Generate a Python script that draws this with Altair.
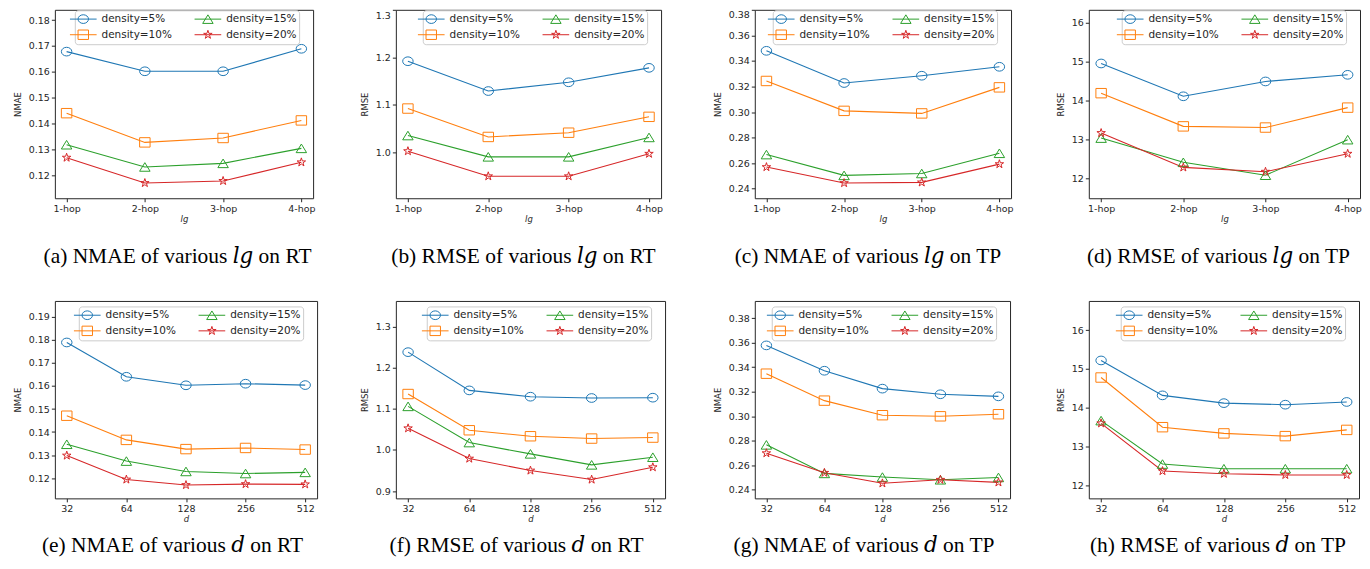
import math
import altair as alt
import pandas as pd

# ---------------- data ----------------
series = ["density=5%", "density=10%", "density=15%", "density=20%"]
series_colors = ["#1f77b4", "#ff7f0e", "#2ca02c", "#d62728"]

hop_labels = ["1-hop", "2-hop", "3-hop", "4-hop"]
dim_labels = ["32", "64", "128", "256", "512"]

# rows: density 5%, 10%, 15%, 20%
nmae_rt_lg = [[0.1678, 0.1602, 0.1602, 0.1689],
              [0.1440, 0.1327, 0.1344, 0.1412],
              [0.1318, 0.1232, 0.1246, 0.1304],
              [0.1268, 0.1170, 0.1178, 0.1250]]
rmse_rt_lg = [[1.192, 1.129, 1.1475, 1.178],
              [1.092, 1.032, 1.041, 1.0745],
              [1.035, 0.990, 0.990, 1.031],
              [1.002, 0.949, 0.949, 0.9965]]
nmae_tp_lg = [[0.3479, 0.3227, 0.3284, 0.3354],
              [0.3243, 0.3009, 0.2989, 0.3193],
              [0.2667, 0.2504, 0.2519, 0.2677],
              [0.2569, 0.2444, 0.2449, 0.2592]]
rmse_tp_lg = [[14.95, 14.11, 14.49, 14.66],
              [14.19, 13.34, 13.31, 13.82],
              [13.04, 12.42, 12.09, 13.00],
              [13.17, 12.29, 12.18, 12.64]]
nmae_rt_d = [[0.1789, 0.1640, 0.1603, 0.1610, 0.1604],
             [0.1471, 0.1366, 0.1326, 0.1331, 0.1324],
             [0.1347, 0.1274, 0.1229, 0.1220, 0.1225],
             [0.1298, 0.1194, 0.1170, 0.1174, 0.1173]]
rmse_rt_d = [[1.2378, 1.1448, 1.1295, 1.1263, 1.1271],
             [1.1360, 1.0479, 1.0333, 1.0277, 1.0301],
             [1.1060, 1.0180, 0.9905, 0.9638, 0.9824],
             [1.0527, 0.9790, 0.9500, 0.9280, 0.9580]]
nmae_tp_d = [[0.3578, 0.3371, 0.3225, 0.3179, 0.3162],
             [0.3347, 0.3127, 0.3008, 0.2999, 0.3016],
             [0.2766, 0.2533, 0.2503, 0.2481, 0.2500],
             [0.2698, 0.2538, 0.2452, 0.2481, 0.2460]]
rmse_tp_d = [[15.22, 14.32, 14.12, 14.08, 14.15],
             [14.78, 13.50, 13.34, 13.27, 13.43],
             [13.67, 12.55, 12.43, 12.43, 12.43],
             [13.60, 12.37, 12.30, 12.27, 12.27]]

yt_nmae_rt_lg = [0.12, 0.13, 0.14, 0.15, 0.16, 0.17, 0.18]
yt_rmse_rt_lg = [1.0, 1.1, 1.2, 1.3]
yt_nmae_tp = [0.24, 0.26, 0.28, 0.30, 0.32, 0.34, 0.36, 0.38]
yt_rmse_tp = [12, 13, 14, 15, 16]
yt_nmae_rt_d = [0.12, 0.13, 0.14, 0.15, 0.16, 0.17, 0.18, 0.19]
yt_rmse_rt_d = [0.9, 1.0, 1.1, 1.2, 1.3]

LG = "\U0001D459\U0001D454"
captions = ["(a) NMAE of various " + LG + " on RT",
            "(b) RMSE of various " + LG + " on RT",
            "(c) NMAE of various " + LG + " on TP",
            "(d) RMSE of various " + LG + " on TP",
            "(e) NMAE of various \U0001D451 on RT",
            "(f) RMSE of various \U0001D451 on RT",
            "(g) NMAE of various \U0001D451 on TP",
            "(h) RMSE of various \U0001D451 on TP"]

# ---------------- marker shapes ----------------
def ellipse(rx, ry):
    return f"M{rx},0A{rx},{ry} 0 1,1 {-rx},0A{rx},{ry} 0 1,1 {rx},0Z"

def star(r, ratio=0.382):
    pts = []
    for k in range(10):
        ang = math.radians(-90 + 36 * k)
        rr = r if k % 2 == 0 else r * ratio
        pts.append((rr * math.cos(ang), rr * math.sin(ang)))
    return "M" + "L".join(f"{x:.4f},{y:.4f}" for x, y in pts) + "Z"

marker_paths = [ellipse(1, 0.83),
                "M-1,-0.9H1V0.9H-1Z",
                "M0,-0.82L1,0.82L-1,0.82Z",
                star(0.85)]
legend_line = "M-2.55,0H2.55"
legend_paths = [legend_line + p for p in marker_paths]

FRAME = "#262626"


def panel(xcats, vals, ytitle, xtitle, yticks, yfmt, ydom, width, height, pad,
          caption, cap_dx, cap_off, leg_y):
    rows = []
    for s, sv in zip(series, vals):
        for i, (c, v) in enumerate(zip(xcats, sv)):
            rows.append({"x": c, "y": v, "s": s, "i": i})
    df = pd.DataFrame(rows)
    xenc = alt.X("x:N", sort=xcats,
                 scale=alt.Scale(type="point", padding=pad),
                 axis=alt.Axis(title=xtitle, labelAngle=0, labelFlush=False,
                               titleFontStyle="italic", labelPadding=1.5,
                               titlePadding=2))
    yenc = alt.Y("y:Q", scale=alt.Scale(domain=ydom, nice=False, zero=False),
                 axis=alt.Axis(title=ytitle, values=yticks, format=yfmt,
                               labelFlush=True, titlePadding=6))
    cscale = alt.Scale(domain=series, range=series_colors)
    leg = dict(title=None, orient="none", legendX=width - 239, legendY=leg_y,
               columns=2, symbolOpacity=1)
    base = alt.Chart(df).encode(x=xenc, y=yenc, order=alt.Order("i:Q"))
    lines = base.mark_line(strokeWidth=1.1).encode(
        color=alt.Color("s:N", scale=cscale, legend=None))
    pts = base.mark_point(filled=False, size=110, strokeWidth=1, opacity=1).encode(
        color=alt.Color("s:N", scale=cscale, legend=None),
        shape=alt.Shape("s:N", scale=alt.Scale(domain=series, range=marker_paths),
                        legend=None))
    key = base.transform_filter("false").mark_point(filled=False, strokeWidth=1).encode(
        color=alt.Color("s:N", scale=cscale, legend=alt.Legend(**leg)),
        shape=alt.Shape("s:N", scale=alt.Scale(domain=series, range=legend_paths),
                        legend=alt.Legend(**leg)))
    return alt.layer(lines, pts, key).resolve_scale(
        color="independent", shape="independent"
    ).properties(
        width=width, height=height,
        title=alt.TitleParams(caption, orient="bottom", dx=cap_dx, offset=cap_off,
                              baseline="alphabetic", frame="group"),
        view=alt.ViewBackground(stroke=FRAME, strokeWidth=1))


def spacer(w, h):
    return alt.Chart(pd.DataFrame({"v": []})).mark_text().properties(
        width=w, height=h, view=alt.ViewBackground(strokeOpacity=0, strokeWidth=0))


H1, H2 = 189, 198
O1, O2 = 39.5, 28.5
a = panel(hop_labels, nmae_rt_lg, "NMAE", "lg", yt_nmae_rt_lg, ".2f", [0.1111, 0.18397], 259, H1, 0.15, captions[0], -6.5, O1, 0.5)
b = panel(hop_labels, rmse_rt_lg, "RMSE", "lg", yt_rmse_rt_lg, ".1f", [0.9025, 1.3006], 266, H1, 0.15, captions[1], -5, O1, 0.5)
c = panel(hop_labels, nmae_tp_lg, "NMAE", "lg", yt_nmae_tp, ".2f", [0.2325, 0.38], 257, H1, 0.15, captions[2], -15, O1, 0.5)
d = panel(hop_labels, rmse_tp_lg, "RMSE", "lg", yt_rmse_tp, "d", [11.5, 16.324], 272, H1, 0.15, captions[3], -6, O1, 0.5)
e = panel(dim_labels, nmae_rt_d, "NMAE", "d", yt_nmae_rt_d, ".2f", [0.11121, 0.19693], 263, H2, 0.2, captions[4], -13.5, O2, 5.5)
f = panel(dim_labels, rmse_rt_d, "RMSE", "d", yt_rmse_rt_d, ".1f", [0.8823, 1.3623], 270, H2, 0.2, captions[5], -14, O2, 5.5)
g = panel(dim_labels, nmae_tp_d, "NMAE", "d", yt_nmae_tp, ".2f", [0.23292, 0.39408], 256, H2, 0.2, captions[6], -18.5, O2, 5.5)
h = panel(dim_labels, rmse_tp_d, "RMSE", "d", yt_rmse_tp, "d", [11.666, 16.753], 271, H2, 0.2, captions[7], -6, O2, 5.5)

chart = alt.concat(
    a, spacer(79, H1), b, spacer(88, H1), c, spacer(78, H1), d,
    e, spacer(75, H2), f, spacer(90, H2), g, spacer(73, H2), h,
    columns=7, spacing={"row": 103, "column": 0}, bounds="flush",
    align={"row": "each", "column": "none"},
).resolve_scale(
    x="independent", y="independent", color="independent", shape="independent"
).resolve_legend(
    color="independent", shape="independent"
).properties(
    padding={"left": 4, "top": 0, "right": 0, "bottom": 0}
).configure_view(
    strokeWidth=0
).configure_axis(
    labelFont="DejaVu Sans", labelFontSize=9.5, labelColor=FRAME,
    tickColor=FRAME, tickSize=3.5, tickWidth=1, domain=False, grid=False,
    titleFont="DejaVu Sans", titleFontSize=8.5, titleFontWeight="normal",
    titleColor=FRAME,
).configure_legend(
    labelFont="DejaVu Sans", labelFontSize=10.5, labelColor=FRAME,
    symbolSize=110, symbolStrokeWidth=1, labelOffset=12.3,
    columnPadding=20, rowPadding=2, padding=2.5,
    fillColor="white", strokeColor="#cccccc", cornerRadius=3,
).configure_title(
    font="Liberation Serif, DejaVu Serif, serif", fontSize=21.5,
    fontWeight="normal", color="black", anchor="middle",
)

chart.save("out.html", embed_options={"renderer": "svg", "actions": False})
